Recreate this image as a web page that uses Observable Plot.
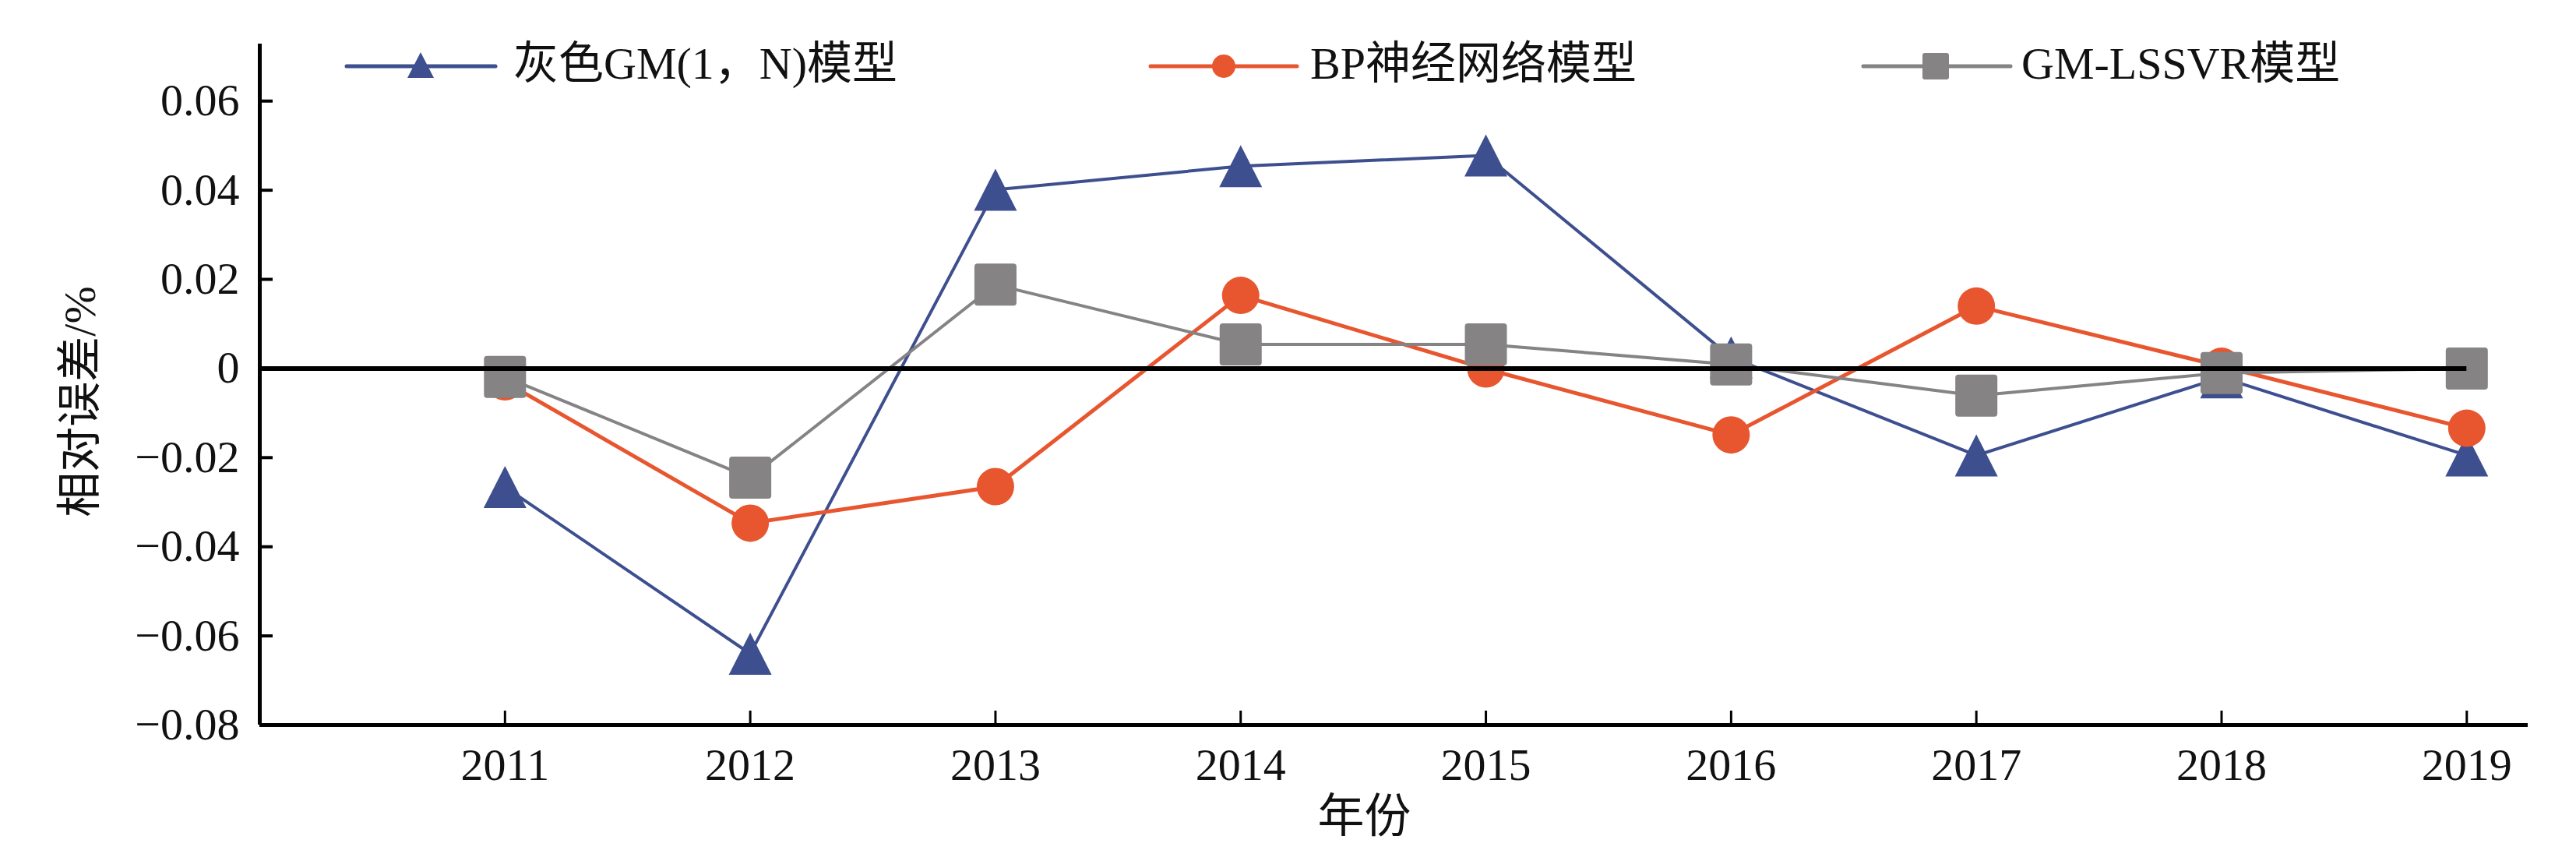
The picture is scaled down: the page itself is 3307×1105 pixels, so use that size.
<!DOCTYPE html>
<html>
<head>
<meta charset="utf-8">
<script src="https://cdn.jsdelivr.net/npm/d3@7"></script>
<script src="https://cdn.jsdelivr.net/npm/@observablehq/plot@0.6"></script>
<style>
  html, body { margin: 0; padding: 0; background: #fff; }
  #wrap { position: relative; width: 3307px; height: 1105px; }
  #legend { position: absolute; left: 0; top: 0; pointer-events: none; }
</style>
</head>
<body>
<div id="wrap"></div>
<script>
// ---- data ----
const years = [2011, 2012, 2013, 2014, 2015, 2016, 2017, 2018, 2019];
const seriesNames = ["灰色GM(1，N)模型", "BP神经网络模型", "GM-LSSVR模型"];
const greyGM = [-0.0266, -0.0640, 0.0401, 0.0454, 0.0478, 0.0025, -0.0195, -0.0020, -0.0195];
const bpNN = [-0.0030, -0.0347, -0.0265, 0.0164, -0.0001, -0.0149, 0.0140, 0.0005, -0.0134];
const gmLSSVR = [-0.0019, -0.0245, 0.0188, 0.0054, 0.0054, 0.0009, -0.0061, -0.0010, 0.0000];
const yTicks = [-0.08, -0.06, -0.04, -0.02, 0, 0.02, 0.04, 0.06];
const xLabel = "年份";
const yLabel = "相对误差/%";

// ---- styling / scale config ----
const xDomain = [2010, 2019.25];
const yDomain = [-0.08, 0.0728];
const colors = ["#3E4F8F", "#E8562F", "#858383"];
const FONT = "'Liberation Serif', 'Times New Roman', 'Noto Sans CJK SC', serif";

const toRows = vals => years.map((y, i) => ({year: y, value: vals[i]}));
const rowsBlue = toRows(greyGM);
const rowsOrange = toRows(bpNN);
const rowsGray = toRows(gmLSSVR);

// custom symbols (centered on their bounding box)
const triSym = {
  draw(ctx, size) {
    const r = Math.sqrt(size / Math.PI);
    const w = 2 * r, h = 1.96 * r;
    ctx.moveTo(0, -h / 2);
    ctx.lineTo(w / 2, h / 2);
    ctx.lineTo(-w / 2, h / 2);
    ctx.closePath();
  }
};
const circSym = {
  draw(ctx, size) {
    const r = Math.sqrt(size / Math.PI);
    ctx.moveTo(r, 0);
    ctx.arc(0, 0, r, 0, 2 * Math.PI);
  }
};
const sqSym = {
  draw(ctx, size) {
    const r = Math.sqrt(size / Math.PI);
    const c = 4;
    ctx.moveTo(-r + c, -r);
    ctx.lineTo(r - c, -r);
    ctx.arcTo(r, -r, r, -r + c, c);
    ctx.lineTo(r, r - c);
    ctx.arcTo(r, r, r - c, r, c);
    ctx.lineTo(-r + c, r);
    ctx.arcTo(-r, r, -r, r - c, c);
    ctx.lineTo(-r, -r + c);
    ctx.arcTo(-r, -r, -r + c, -r, c);
    ctx.closePath();
  }
};

const fmtY = d => d === 0 ? "0" : d3.format(".2f")(d);

const chart = Plot.plot({
  width: 3307,
  height: 1105,
  marginLeft: 333,
  marginRight: 62,
  marginTop: 56,
  marginBottom: 175,
  style: {fontFamily: FONT, color: "#111", background: "#fff"},
  x: {domain: xDomain, label: null},
  y: {domain: yDomain, label: null},
  marks: [
    // axis lines
    Plot.ruleX([xDomain[0]], {stroke: "#000", strokeWidth: 5}),
    Plot.ruleY([yDomain[0]], {stroke: "#000", strokeWidth: 5}),
    // y ticks (inward) and labels
    Plot.axisY(yTicks, {anchor: "left", tickSize: 17, dx: 17, strokeWidth: 4, stroke: "#000", tickFormat: () => "", label: null}),
    Plot.axisY(yTicks, {anchor: "left", tickSize: 0, tickPadding: 26, tickFormat: fmtY, fontSize: 58, fontFamily: FONT, fill: "#111", label: null}),
    // x ticks (inward) and labels
    Plot.axisX(years, {anchor: "bottom", tickSize: 18, dy: -18, strokeWidth: 3, stroke: "#000", tickFormat: () => "", label: null}),
    Plot.axisX(years, {anchor: "bottom", tickSize: 0, tickPadding: 29, tickFormat: d => String(d), fontSize: 58, fontFamily: FONT, fill: "#111", label: null}),
    // series
    Plot.line(rowsBlue, {x: "year", y: "value", stroke: colors[0], strokeWidth: 4}),
    Plot.dot(rowsBlue, {x: "year", y: "value", symbol: triSym, r: 27.5, fill: colors[0], stroke: "none"}),
    Plot.line(rowsOrange, {x: "year", y: "value", stroke: colors[1], strokeWidth: 5}),
    Plot.dot(rowsOrange, {x: "year", y: "value", symbol: circSym, r: 24, fill: colors[1], stroke: "none"}),
    Plot.line(rowsGray, {x: "year", y: "value", stroke: colors[2], strokeWidth: 4}),
    Plot.dot(rowsGray, {x: "year", y: "value", symbol: sqSym, r: 27, fill: colors[2], stroke: "none"}),
    // zero line
    Plot.ruleY([0], {x1: xDomain[0], x2: years[years.length - 1], stroke: "#000", strokeWidth: 6}),
    // axis titles
    Plot.text([yLabel], {text: d => d, frameAnchor: "left", textAnchor: "middle", lineAnchor: "middle", rotate: -90, dx: -230, dy: 22, fontSize: 58, fontFamily: FONT, fill: "#111"}),
    Plot.text([xLabel], {text: d => d, frameAnchor: "bottom", textAnchor: "middle", lineAnchor: "middle", dx: -38, dy: 118, fontSize: 60, fontFamily: FONT, fill: "#111"})
  ]
});

const wrap = document.getElementById("wrap");
wrap.appendChild(chart);

// ---- legend overlay ----
const legendItems = [
  {name: seriesNames[0], color: colors[0], shape: "triangle", x1: 445, x2: 636, mx: 540, tx: 659},
  {name: seriesNames[1], color: colors[1], shape: "circle", x1: 1477, x2: 1665, mx: 1571, tx: 1682},
  {name: seriesNames[2], color: colors[2], shape: "square", x1: 2392, x2: 2581, mx: 2485, tx: 2595}
];
const NS = "http://www.w3.org/2000/svg";
const lg = document.createElementNS(NS, "svg");
lg.setAttribute("id", "legend");
lg.setAttribute("width", 3307);
lg.setAttribute("height", 130);
const ly = 85;
for (const it of legendItems) {
  const ln = document.createElementNS(NS, "line");
  ln.setAttribute("x1", it.x1); ln.setAttribute("x2", it.x2);
  ln.setAttribute("y1", ly); ln.setAttribute("y2", ly);
  ln.setAttribute("stroke", it.color); ln.setAttribute("stroke-width", 5);
  ln.setAttribute("stroke-linecap", "round");
  lg.appendChild(ln);
  let m;
  if (it.shape === "triangle") {
    m = document.createElementNS(NS, "path");
    m.setAttribute("d", `M${it.mx},${ly - 18}L${it.mx + 17},${ly + 15}L${it.mx - 17},${ly + 15}Z`);
  } else if (it.shape === "circle") {
    m = document.createElementNS(NS, "circle");
    m.setAttribute("cx", it.mx); m.setAttribute("cy", ly); m.setAttribute("r", 15);
  } else {
    m = document.createElementNS(NS, "rect");
    m.setAttribute("x", it.mx - 17); m.setAttribute("y", ly - 17);
    m.setAttribute("width", 34); m.setAttribute("height", 34);
    m.setAttribute("rx", 3);
  }
  m.setAttribute("fill", it.color);
  lg.appendChild(m);
  const t = document.createElementNS(NS, "text");
  t.setAttribute("x", it.tx); t.setAttribute("y", 101);
  t.setAttribute("font-size", 58);
  t.setAttribute("font-family", FONT);
  t.setAttribute("fill", "#111");
  t.textContent = it.name;
  lg.appendChild(t);
}
wrap.appendChild(lg);
</script>
</body>
</html>
